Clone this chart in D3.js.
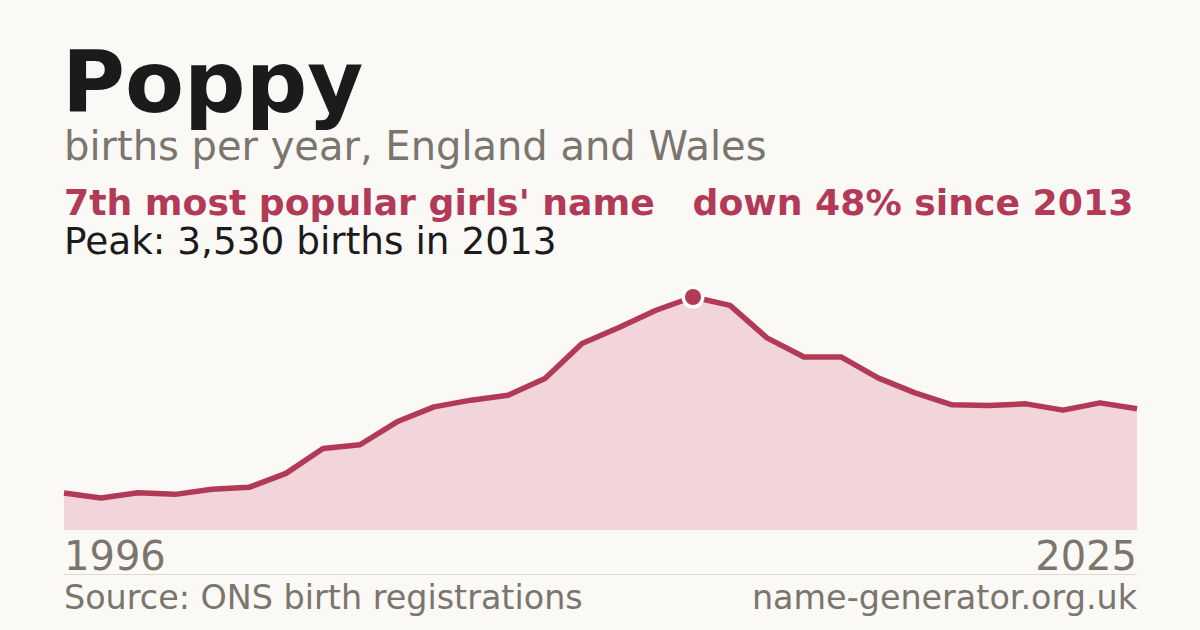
<!DOCTYPE html>
<html>
<head>
<meta charset="utf-8">
<script src="https://cdn.jsdelivr.net/npm/d3@7"></script>
<style>
  html, body { margin: 0; padding: 0; background: #faf9f5; }
  svg { display: block; }
  text { font-family: "DejaVu Sans", sans-serif; white-space: pre; }
</style>
</head>
<body>
<svg id="chart" width="1200" height="630"></svg>
<script>
const years = [1996,1997,1998,1999,2000,2001,2002,2003,2004,2005,2006,2007,2008,2009,2010,2011,2012,2013,2014,2015,2016,2017,2018,2019,2020,2021,2022,2023,2024,2025];
const births = [560,484,564,540,616,646,858,1236,1291,1639,1866,1967,2043,2295,2825,3067,3329,3530,3404,2910,2622,2622,2304,2077,1896,1887,1911,1816,1926,1836];
const titleText = "Poppy";
const subtitleText = "births per year, England and Wales";
const rankText = "7th most popular girls' name";
const changeText = "down 48% since 2013";
const peakText = "Peak: 3,530 births in 2013";
const sourceText = "Source: ONS birth registrations";
const siteText = "name-generator.org.uk";
const peakYear = 2013;

const data = years.map((y, i) => ({ year: y, value: births[i] }));

const RED = "#b23a57";
const FILL = "#f1d5db";
const GREY = "#7a756d";
const DARK = "#1b1b1b";

const svg = d3.select("#chart");
svg.append("rect").attr("width", 1200).attr("height", 630).attr("fill", "#faf9f5");

const x = d3.scaleLinear().domain(d3.extent(years)).range([64, 1137]);
const y = d3.scaleLinear().domain([0, d3.max(births)]).range([530, 297]);

// Titles
svg.append("text").attr("x", 62).attr("y", 112)
  .attr("font-size", 86).attr("font-weight", "bold").attr("fill", DARK).text(titleText);
svg.append("text").attr("x", 64).attr("y", 160)
  .attr("font-size", 40).attr("fill", GREY).text(subtitleText);
svg.append("text").attr("x", 64).attr("y", 215)
  .attr("font-size", 36.2).attr("font-weight", "bold").attr("fill", RED)
  .text(rankText + "   " + changeText);
svg.append("text").attr("x", 64).attr("y", 254)
  .attr("font-size", 37.4).attr("fill", DARK).text(peakText);

// Area + line
const area = d3.area().x(d => x(d.year)).y0(y(0)).y1(d => y(d.value));
const line = d3.line().x(d => x(d.year)).y(d => y(d.value));

svg.append("path").datum(data).attr("d", area).attr("fill", FILL);
svg.append("path").datum(data).attr("d", line)
  .attr("fill", "none").attr("stroke", RED).attr("stroke-width", 5.5)
  .attr("stroke-linejoin", "round");

const peak = data.find(d => d.year === peakYear);
svg.append("circle").attr("cx", x(peak.year)).attr("cy", y(peak.value)).attr("r", 8)
  .attr("fill", RED).attr("stroke", "#ffffff").attr("stroke-width", 7)
  .attr("paint-order", "stroke");

// Year labels
const xDomain = x.domain();
svg.append("text").attr("x", x(xDomain[0])).attr("y", 570)
  .attr("font-size", 40).attr("fill", GREY).text(String(xDomain[0]));
svg.append("text").attr("x", x(xDomain[1])).attr("y", 570).attr("text-anchor", "end")
  .attr("font-size", 40).attr("fill", GREY).text(String(xDomain[1]));

// Divider
svg.append("line").attr("x1", 64).attr("x2", 1137).attr("y1", 574.5).attr("y2", 574.5)
  .attr("stroke", "#dcdad4").attr("stroke-width", 1);

// Footer
svg.append("text").attr("x", 64).attr("y", 609)
  .attr("font-size", 33.4).attr("fill", GREY).text(sourceText);
svg.append("text").attr("x", 1137).attr("y", 609).attr("text-anchor", "end")
  .attr("font-size", 33.4).attr("fill", GREY).text(siteText);
</script>
</body>
</html>
